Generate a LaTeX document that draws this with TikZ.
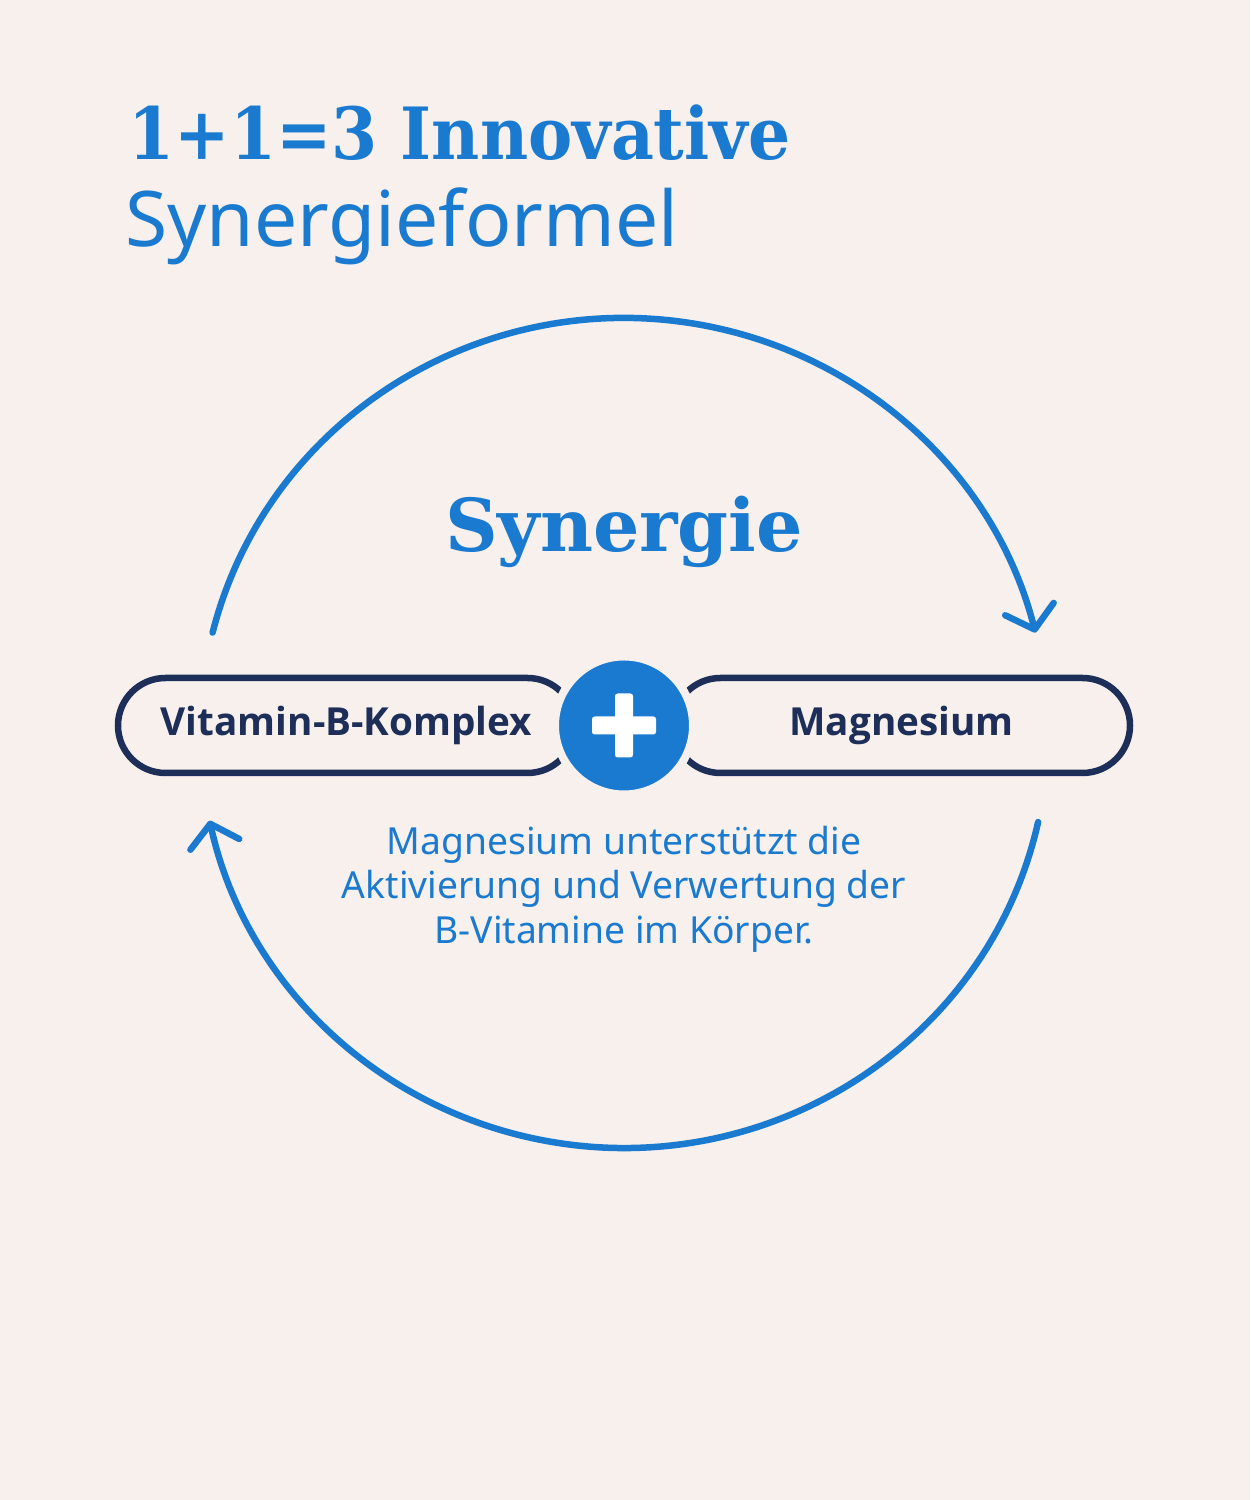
\documentclass[tikz,border=0pt]{standalone}
\usepackage{fontspec}
\setmainfont{Noto Sans}
\newfontfamily\slabfont{DejaVu Serif}
\newfontfamily\pillfont{Open Sans}
\usetikzlibrary{positioning,calc}
\usetikzlibrary{arrows.meta}
\definecolor{PaperBg}{RGB}{247,240,237}
\definecolor{SynBlue}{RGB}{25,122,208}
\definecolor{PillNavy}{RGB}{29,47,88}
\tikzset{
  pill/.style={draw=PillNavy,fill=PaperBg,line width=0.13cm,rounded corners=0.95cm,
    minimum width=9.14cm,minimum height=1.9cm,inner sep=0pt,
    font=\pillfont\bfseries\fontsize{22}{26}\selectfont,text=PillNavy},
  plusdot/.style={circle,fill=SynBlue,draw=PaperBg,line width=0.16cm,minimum size=2.76cm,inner sep=0pt},
  cyc/.style={draw=SynBlue,line width=0.13cm,line cap=round,
    -{Straight Barb[length=0.42cm,width=1.0cm,round]}},
}
\tikzset{heading/.style={text=SynBlue,inner sep=0pt}}

\begin{document}
\begin{tikzpicture}
\fill[PaperBg] (0,0) rectangle (25,30);
\useasboundingbox (0,0) rectangle (25,30);
\node[heading,anchor=base west,xscale=0.92,transform shape,font=\slabfont\bfseries\fontsize{41}{44}\selectfont] (title) at (2.56,26.8) {1+1=3 Innovative};
\node[heading,anchor=base west,font=\fontsize{43.7}{46}\selectfont] (subtitle) at (2.5,25.06) {Synergieformel};
\coordinate (cyc) at (12.48,15.34);
\coordinate (topstart) at ($(cyc)+(166:8.48cm and 8.3cm)$);
\coordinate (botstart) at ($(cyc)+(-12.4:8.48cm and 8.3cm)$);
\draw[cyc] (topstart) arc[start angle=166,end angle=14,x radius=8.48cm,y radius=8.3cm];
\draw[cyc] (botstart) arc[start angle=-12.4,end angle=-167.8,x radius=8.48cm,y radius=8.3cm];
\node[heading,anchor=base,font=\slabfont\bfseries\fontsize{41.5}{44}\selectfont] (syn) at (12.48,18.96) {Synergie};
\node[pill] (vit) at (6.93,15.49) {Vitamin-B-Komplex};
\node[pill] (mag) at (18.03,15.49) {Magnesium};
\node[plusdot] (plus) at (12.48,15.49) {};
\fill[white,rounded corners=1.5pt] ($(plus)+(-0.64,-0.18)$) rectangle ($(plus)+(0.64,0.18)$);
\fill[white,rounded corners=1.5pt] ($(plus)+(-0.18,-0.64)$) rectangle ($(plus)+(0.18,0.64)$);
\node[heading,anchor=north,align=center,font=\fontsize{21.2}{25.2}\selectfont] (note) at (12.48,13.48) {Magnesium unterstützt die\\Aktivierung und Verwertung der\\B-Vitamine im Körper.};
\end{tikzpicture}
\end{document}
